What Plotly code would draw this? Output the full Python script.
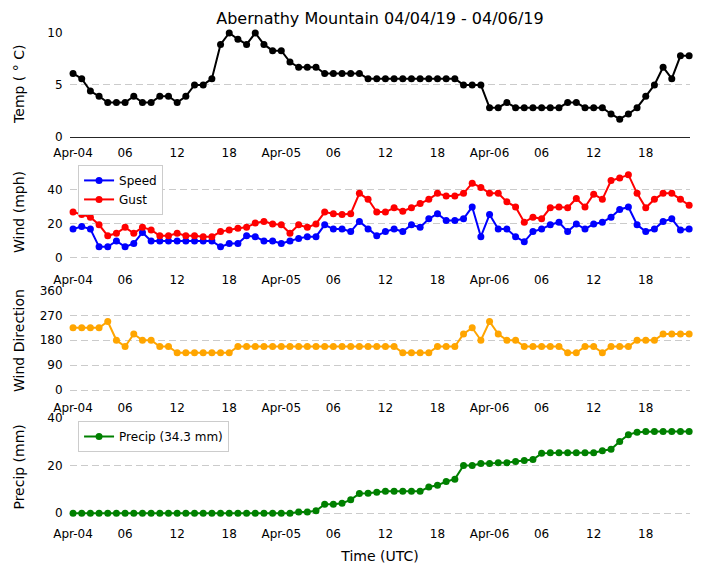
import pandas as pd
import plotly.graph_objects as go
from plotly.subplots import make_subplots

#%% Data (hourly, Apr-04 00:00 to Apr-06 23:00 UTC)
times = pd.date_range("2019-04-04 00:00", periods=72, freq="h")

temp_c = [6.1, 5.6, 4.4, 3.9, 3.3, 3.3, 3.3, 3.9, 3.3, 3.3, 3.9, 3.9,
          3.3, 3.9, 5.0, 5.0, 5.6, 8.9, 10.0, 9.4, 8.9, 10.0, 8.9, 8.3,
          8.3, 7.2, 6.7, 6.7, 6.7, 6.1, 6.1, 6.1, 6.1, 6.1, 5.6, 5.6,
          5.6, 5.6, 5.6, 5.6, 5.6, 5.6, 5.6, 5.6, 5.6, 5.0, 5.0, 5.0,
          2.8, 2.8, 3.3, 2.8, 2.8, 2.8, 2.8, 2.8, 2.8, 3.3, 3.3, 2.8,
          2.8, 2.8, 2.2, 1.7, 2.2, 2.8, 3.9, 5.0, 6.7, 5.6, 7.8, 7.8]

speed_mph = [17, 18.5, 17, 6.5, 6.5, 10, 6.5, 8.5, 15, 10, 10, 10,
             10, 10, 10, 10, 10, 6.5, 8.5, 8.5, 13, 12.5, 10, 10,
             8.5, 10, 11.5, 12.5, 12.5, 19.5, 17, 17, 15.5, 21.5, 17, 13,
             15.5, 17, 15.5, 19.5, 18, 23, 26, 22, 22, 23, 30, 12.5,
             25.5, 17, 17, 12.5, 9.5, 15.5, 17, 19.5, 21, 15.5, 20, 17,
             20, 21, 24, 28.5, 30, 19.5, 15.5, 17, 21.5, 23, 16.5, 17]

gust_mph = [27, 25.5, 24, 19.5, 13, 14.5, 18, 14.5, 18, 16.5, 13, 13,
            14.5, 13, 13, 12.5, 12.5, 15.5, 16.5, 17.5, 18, 20.5, 21.5, 20,
            19.5, 14.5, 19.5, 18, 20, 27, 26, 25.5, 26, 38, 34.5, 27,
            27, 29.5, 27.5, 29.5, 32, 34.5, 38, 36.5, 36.5, 38, 44, 41.5,
            38, 38, 33, 30, 21, 24, 23, 29.5, 30, 29.5, 35, 30,
            37.5, 34.5, 45.5, 47, 49, 38, 29.5, 34.5, 38, 38, 34.5, 31]

wind_dir = [225, 225, 225, 225, 247.5, 180, 157.5, 202.5, 180, 180, 157.5, 157.5,
            135, 135, 135, 135, 135, 135, 135, 157.5, 157.5, 157.5, 157.5, 157.5,
            157.5, 157.5, 157.5, 157.5, 157.5, 157.5, 157.5, 157.5, 157.5, 157.5, 157.5, 157.5,
            157.5, 157.5, 135, 135, 135, 135, 157.5, 157.5, 157.5, 202.5, 225, 180,
            247.5, 202.5, 180, 180, 157.5, 157.5, 157.5, 157.5, 157.5, 135, 135, 157.5,
            157.5, 135, 157.5, 157.5, 157.5, 180, 180, 180, 202.5, 202.5, 202.5, 202.5]

precip_mm = [0, 0, 0, 0, 0, 0, 0, 0, 0, 0, 0, 0,
             0, 0, 0, 0, 0, 0, 0, 0, 0, 0, 0, 0,
             0, 0, 0.5, 0.5, 1.0, 3.8, 3.8, 4.2, 5.6, 8.3, 8.4, 8.8,
             9.2, 9.2, 9.2, 9.2, 9.2, 11.0, 11.7, 13.3, 14.3, 20.0, 20.0, 20.8,
             20.8, 21.2, 21.2, 21.7, 22.1, 22.5, 25.1, 25.4, 25.4, 25.4, 25.4, 25.4,
             25.4, 26.2, 26.8, 30.1, 32.9, 34.0, 34.3, 34.3, 34.3, 34.3, 34.3, 34.3]

tick_times = times[::6]
tick_labels = ["Apr-04", "06", "12", "18", "Apr-05", "06", "12", "18",
               "Apr-06", "06", "12", "18"]

ytitles = ['Temp ( ° C)', 'Wind (mph)', 'Wind Direction', 'Precip (mm)']

#%% Figure
fig = make_subplots(rows=4, cols=1)

mk = dict(size=7)
ln = dict(width=2)

fig.add_trace(go.Scatter(x=times, y=temp_c, mode='lines+markers', name='Temp',
                         line=dict(color='black', **ln), marker=dict(color='black', **mk),
                         showlegend=False, cliponaxis=False), row=1, col=1)
fig.add_trace(go.Scatter(x=times, y=speed_mph, mode='lines+markers', name='Speed',
                         line=dict(color='blue', **ln), marker=dict(color='blue', **mk),
                         legend='legend', cliponaxis=False), row=2, col=1)
fig.add_trace(go.Scatter(x=times, y=gust_mph, mode='lines+markers', name='Gust',
                         line=dict(color='red', **ln), marker=dict(color='red', **mk),
                         legend='legend', cliponaxis=False), row=2, col=1)
fig.add_trace(go.Scatter(x=times, y=wind_dir, mode='lines+markers', name='Direction',
                         line=dict(color='orange', **ln), marker=dict(color='orange', **mk),
                         showlegend=False, cliponaxis=False), row=3, col=1)
fig.add_trace(go.Scatter(x=times, y=precip_mm, mode='lines+markers',
                         name=f'Precip ({precip_mm[-1]:.1f} mm)',
                         line=dict(color='green', **ln), marker=dict(color='green', **mk),
                         legend='legend2', cliponaxis=False), row=4, col=1)

font = dict(family='DejaVu Sans', size=12, color='black')
x_lo = times[0] - pd.Timedelta(minutes=21)
x_hi = times[-1] + pd.Timedelta(minutes=6)

# the page body has an 8px margin, so the figure is drawn 8px smaller
W, H = 696, 565
ML, MR, MT, MB = 62, 14, 25, 55
plot_w = W - ML - MR

# domains (paper fractions) and ranges for the four panels
domains = [[0.786, 1.0], [0.524, 0.738], [0.26, 0.47], [0.0, 0.208]]
ranges = [[0, 10], [-3.5, 57.6], [-6, 361], [-2, 40.3]]
ticks = [[0, 5, 10], [0, 20, 40], [0, 90, 180, 270, 360], [0, 20, 40]]

for i in range(4):
    n = '' if i == 0 else str(i + 1)
    fig.layout['xaxis' + n].update(
        domain=[0, 1], range=[x_lo, x_hi], tickmode='array',
        tickvals=tick_times, ticktext=tick_labels, showgrid=False,
        ticks='outside', ticklen=5, tickcolor='rgba(0,0,0,0)',
        tickfont=font, zeroline=False,
        showline=(i == 0), linecolor='#262626', linewidth=1)
    fig.layout['yaxis' + n].update(
        domain=domains[i], range=ranges[i], tickmode='array', tickvals=ticks[i],
        showgrid=True, gridcolor='#cbcbcb', griddash='7px,4px', gridwidth=1,
        zeroline=False, ticks='outside', ticklen=4, tickcolor='rgba(0,0,0,0)',
        tickfont=font)
    # y titles at a fixed distance from the left edge, like the original
    fig.add_annotation(text=ytitles[i], textangle=-90, xref='paper', yref='paper',
                       x=(11 - ML) / plot_w, y=sum(domains[i]) / 2,
                       xanchor='center', yanchor='middle', showarrow=False,
                       font=dict(family='DejaVu Sans', size=14, color='black'))

fig.layout['xaxis4'].title = dict(text='Time (UTC)', font=dict(family='DejaVu Sans', size=14),
                                  standoff=10)

fig.update_layout(
    width=W, height=H,
    margin=dict(l=ML, r=MR, t=MT, b=MB),
    plot_bgcolor='white', paper_bgcolor='white',
    font=font,
    title=dict(text='Abernathy Mountain 04/04/19 - 04/06/19', x=0.5, xref='paper',
               y=1 - 10 / H, yanchor='middle', font=dict(family='DejaVu Sans', size=16)),
    legend=dict(x=0.013, y=0.728, xanchor='left', yanchor='top', bgcolor='white',
                bordercolor='#cccccc', borderwidth=1, itemwidth=30,
                font=dict(family='DejaVu Sans', size=12)),
    legend2=dict(x=0.013, y=0.2, xanchor='left', yanchor='top', bgcolor='white',
                 bordercolor='#cccccc', borderwidth=1, itemwidth=30,
                 font=dict(family='DejaVu Sans', size=12)),
)

fig.write_html("out.html")
